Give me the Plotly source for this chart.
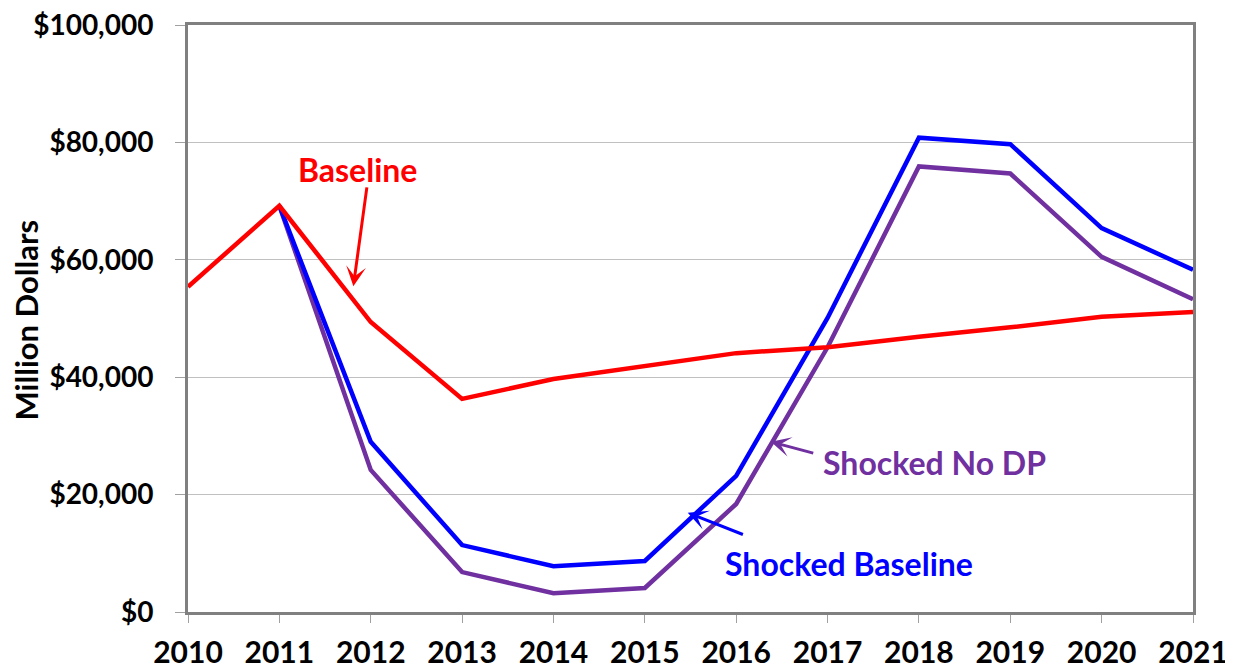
import plotly.graph_objects as go

years = list(range(2010, 2022))

baseline = [55400, 69200, 49400, 36300, 39700, 41900, 44100, 45100, 46900, 48500, 50300, 51100]
shocked_baseline = [None, 69200, 29000, 11400, 7800, 8700, 23200, 50100, 80800, 79700, 65400, 58300]
shocked_no_dp = [None, 69200, 24200, 6800, 3200, 4100, 18400, 45100, 75900, 74700, 60500, 53300]

RED = "#ff0000"
BLUE = "#0000ff"
PURPLE = "#7030a0"
FONT = "Lato"

fig = go.Figure()
fig.add_trace(go.Scatter(x=years, y=shocked_no_dp, mode="lines",
                         line=dict(color=PURPLE, width=4.5), name="Shocked No DP"))
fig.add_trace(go.Scatter(x=years, y=shocked_baseline, mode="lines",
                         line=dict(color=BLUE, width=4.5), name="Shocked Baseline"))
fig.add_trace(go.Scatter(x=years, y=baseline, mode="lines",
                         line=dict(color=RED, width=4.5), name="Baseline"))

# labels (text) and arrows
labels = [
    ("Baseline", RED, 2011.86, 75300),
    ("Shocked No DP", PURPLE, 2018.17, 25400),
    ("Shocked Baseline", BLUE, 2017.24, 8300),
]
arrows = [
    # head x, head y, tail x, tail y
    (RED, 2011.81, 55500, 2011.96, 72600),
    (PURPLE, 2016.38, 29000, 2016.86, 27000),
    (BLUE, 2015.47, 16900, 2016.09, 13100),
]

for text, color, x, y in labels:
    fig.add_annotation(x=x, y=y, text=text, showarrow=False,
                       font=dict(family=FONT, size=32, color=color, weight="bold"))

for color, hx, hy, tx, ty in arrows:
    fig.add_annotation(x=hx, y=hy, ax=tx, ay=ty, axref="x", ayref="y",
                       text="", showarrow=True, arrowhead=3, arrowsize=1.1,
                       arrowwidth=3, arrowcolor=color, standoff=0, startstandoff=0)

# y axis title
fig.add_annotation(xref="paper", yref="paper", x=-0.161, y=0.497,
                   xanchor="center", yanchor="middle", borderpad=0,
                   text="Million Dollars", textangle=-90, showarrow=False,
                   font=dict(family=FONT, size=31, color="black", weight="bold"))

# page body adds an 8px offset, so the figure is a bit smaller than the window
fig.update_layout(
    width=1225, height=660,
    margin=dict(l=180, r=40, t=17, b=56),
    plot_bgcolor="white", paper_bgcolor="white",
    showlegend=False,
    font=dict(family=FONT, color="black"),
)
fig.update_xaxes(
    range=[2010, 2021], tickmode="array", tickvals=years,
    ticktext=[str(y) for y in years], automargin=False,
    showgrid=False, showline=True, linecolor="#808080", linewidth=3, mirror=True,
    ticks="outside", ticklen=8, tickcolor="#a0a0a0", tickwidth=1,
    ticklabelstandoff=4, ticklabeloverflow="allow",
    tickfont=dict(family=FONT, size=30, weight="bold"),
)
fig.update_yaxes(
    range=[0, 100000], dtick=20000, tickprefix="$", tickformat=",d",
    automargin=False,
    showgrid=True, gridcolor="#c0c0c0", gridwidth=1,
    showline=True, linecolor="#808080", linewidth=3, mirror=True,
    ticks="outside", ticklen=10, tickcolor="#a0a0a0", tickwidth=1,
    ticklabelstandoff=16, ticklabeloverflow="allow",
    tickfont=dict(family=FONT, size=28, weight="bold"),
    zeroline=False,
)

fig.write_html("out.html")
